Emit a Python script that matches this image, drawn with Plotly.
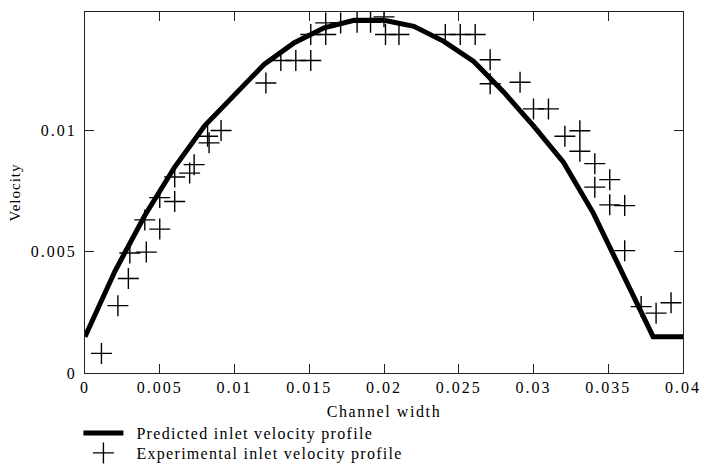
import plotly.graph_objects as go

# Predicted inlet velocity profile (polyline vertices)
pred_x = [0.0, 0.002, 0.004, 0.006, 0.008, 0.010, 0.012, 0.014, 0.016, 0.018,
          0.020, 0.022, 0.024, 0.026, 0.028, 0.030, 0.032, 0.034, 0.036, 0.038, 0.040]
pred_y = [0.0015, 0.0042, 0.0065, 0.0085, 0.0102, 0.0115, 0.01275, 0.01363, 0.01425, 0.01456,
          0.01456, 0.01431, 0.01369, 0.01286, 0.0116, 0.0102, 0.0087, 0.0066, 0.0040, 0.0015, 0.0015]

# Experimental inlet velocity profile
exp_x = [0.0011, 0.0022, 0.0029, 0.0030, 0.0041, 0.0040, 0.0050, 0.0050, 0.0060, 0.0060,
         0.0070, 0.0073, 0.0083, 0.0082, 0.0091, 0.0121, 0.0131, 0.0141, 0.0151, 0.0151,
         0.0161, 0.0161, 0.0171, 0.0182, 0.0191, 0.0200, 0.0201, 0.0210, 0.0241, 0.0251,
         0.0261, 0.0271, 0.0271, 0.0291, 0.0300, 0.0310, 0.0321, 0.0331, 0.0331, 0.0341,
         0.0341, 0.0351, 0.0351, 0.0361, 0.0361, 0.0372, 0.0382, 0.0392]
exp_y = [0.00081, 0.00278, 0.0039, 0.00495, 0.00499, 0.00632, 0.00594, 0.00724, 0.00708, 0.00809,
         0.00825, 0.0086, 0.0095, 0.00977, 0.01001, 0.01197, 0.0129, 0.0129, 0.0129, 0.01397,
         0.01397, 0.01445, 0.01445, 0.01448, 0.01448, 0.0147, 0.01397, 0.01397, 0.01397, 0.01397,
         0.01397, 0.01293, 0.01194, 0.0120, 0.0109, 0.0109, 0.00977, 0.0100, 0.00915, 0.00864,
         0.00767, 0.00798, 0.00694, 0.00691, 0.00505, 0.00274, 0.00247, 0.0029]

x_ticks = [0, 0.005, 0.01, 0.015, 0.02, 0.025, 0.03, 0.035, 0.04]
x_ticktext = ["0", "0.005", "0.01", "0.015", "0.02", "0.025", "0.03", "0.035", "0.04"]
y_ticks = [0, 0.005, 0.01]
y_ticktext = ["0", "0.005", "0.01"]

FONT = "Liberation Serif, Times New Roman, serif"


def spaced(s, ls):
    return '<span style="letter-spacing:%.1fpx">%s</span>' % (ls, s)


fig = go.Figure()
fig.add_trace(go.Scatter(
    x=pred_x, y=pred_y, mode="lines",
    line=dict(color="black", width=5),
    name="\u00a0\u00a0" + spaced("Predicted inlet velocity profile", 1.3),
    legend="legend",
))
fig.add_trace(go.Scatter(
    x=exp_x, y=exp_y, mode="markers",
    marker=dict(symbol="cross-thin-open", size=15, color="black",
                line=dict(color="black", width=1.4)),
    name="\u00a0\u00a0" + spaced("Experimental inlet velocity profile", 1.3),
    legend="legend2",
))

axis_common = dict(
    showgrid=False, zeroline=False, showline=True, linecolor="#222", linewidth=1.2,
    mirror="allticks", ticks="inside", ticklen=9, tickwidth=1.2, tickcolor="#222",
    tickfont=dict(family=FONT, size=16, color="black"), automargin=False,
)

legend_common = dict(
    x=-0.011, xanchor="left", yanchor="middle",
    font=dict(family=FONT, size=16, color="black"),
    bgcolor="rgba(0,0,0,0)", borderwidth=0, itemwidth=40,
)

fig.update_layout(
    width=704, height=464,
    margin=dict(l=84.5, r=21, t=12, b=91, autoexpand=False),
    paper_bgcolor="white", plot_bgcolor="white",
    font=dict(family=FONT, size=16, color="black"),
    xaxis=dict(range=[0, 0.04], tickvals=x_ticks,
               ticktext=[spaced(t, 2.0) for t in x_ticktext],
               title=dict(text=spaced("Channel width", 1.6),
                          font=dict(family=FONT, size=16), standoff=10),
               **axis_common),
    yaxis=dict(range=[0, 0.0149], tickvals=y_ticks,
               ticktext=[spaced(t, 2.0) for t in y_ticktext],
               ticklabelstandoff=4,
               title=dict(text=spaced("Velocity", 1.0), font=dict(family=FONT, size=15),
                          standoff=6),
               **axis_common),
    showlegend=True,
    legend=dict(y=-0.1662, **legend_common),
    legend2=dict(y=-0.2216, **legend_common),
)

fig.write_html("out.html")
